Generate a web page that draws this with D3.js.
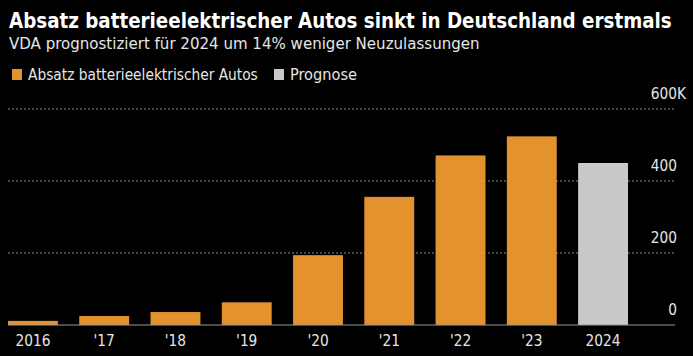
<!DOCTYPE html>
<html><head><meta charset="utf-8">
<script src="https://cdn.jsdelivr.net/npm/d3@7"></script>
<style>body{margin:0;background:#000;}svg{display:block;} text{font-family:'DejaVu Sans',sans-serif;font-stretch:condensed;}</style>
</head><body>
<svg id="c" width="693" height="356"></svg>
<script>
const categories = ["2016","'17","'18","'19","'20","'21","'22","'23","2024"];
const values = [11.4, 25, 36, 63, 194, 356, 471, 524, 450]; // thousands
const isForecast = [false,false,false,false,false,false,false,false,true];
const yTicks = [0, 200, 400, 600];
const title = "Absatz batterieelektrischer Autos sinkt in Deutschland erstmals";
const subtitle = "VDA prognostiziert für 2024 um 14% weniger Neuzulassungen";
const legendItems = ["Absatz batterieelektrischer Autos", "Prognose"];

const svg = d3.select("#c");
const W = 693, H = 356;
svg.append("rect").attr("width", W).attr("height", H).attr("fill", "#000");

const orange = "#e3922e", grey = "#c9c8ca", textCol = "#e6e6e6";

function fit(sel, target) {
  const w = sel.node().getComputedTextLength();
  const fs = parseFloat(sel.attr("font-size"));
  sel.attr("font-size", fs * target / w);
}

const t = svg.append("text").attr("x", 9).attr("y", 27.5).attr("fill", "#fff")
  .attr("font-weight", "bold").attr("font-size", 19).text(title);
fit(t, 663);
const st = svg.append("text").attr("x", 9).attr("y", 48.5).attr("fill", textCol)
  .attr("font-size", 15).text(subtitle);
fit(st, 471);

// legend
const lg = svg.append("g");
lg.append("rect").attr("x", 12).attr("y", 69).attr("width", 10).attr("height", 11).attr("fill", orange);
const l1 = lg.append("text").attr("x", 28).attr("y", 79.5).attr("fill", textCol)
  .attr("font-size", 15).text(legendItems[0]);
fit(l1, 230);
lg.append("rect").attr("x", 274).attr("y", 69).attr("width", 10).attr("height", 11).attr("fill", grey);
const l2 = lg.append("text").attr("x", 290).attr("y", 79.5).attr("fill", textCol)
  .attr("font-size", 15).text(legendItems[1]);
fit(l2, 67);

const x = d3.scaleBand().domain(categories).range([8, 628]).paddingInner(0.3).paddingOuter(0);
const y = d3.scaleLinear().domain([0, 600]).range([325, 109]);

// gridlines
svg.append("g").selectAll("line").data(yTicks.filter(d => d > 0)).join("line")
  .attr("x1", 8).attr("x2", 675).attr("y1", d => y(d)).attr("y2", d => y(d))
  .attr("stroke", "#8a8a8a").attr("stroke-width", 1).attr("stroke-dasharray", "2,2");

// bars
svg.append("g").selectAll("rect").data(categories).join("rect")
  .attr("x", d => x(d)).attr("width", x.bandwidth())
  .attr("y", (d, i) => y(values[i])).attr("height", (d, i) => y(0) - y(values[i]))
  .attr("fill", (d, i) => isForecast[i] ? grey : orange);

// baseline
svg.append("line").attr("x1", 8).attr("x2", 675).attr("y1", y(0)).attr("y2", y(0))
  .attr("stroke", "#9a9a9a").attr("stroke-width", 1.2);

// measure a digit label to size the axis text
const probe = svg.append("text").attr("font-size", 15).text("2016");
const axisFs = 15 * 35 / probe.node().getComputedTextLength();
probe.remove();

// y labels
svg.append("g").selectAll("text").data(yTicks).join("text")
  .attr("x", 677).attr("y", d => y(d) - 10).attr("text-anchor", "end")
  .attr("fill", textCol).attr("font-size", axisFs).text(d => d);
svg.append("text").attr("x", 677).attr("y", y(600) - 10).attr("fill", textCol)
  .attr("font-size", axisFs).text("K");

// x labels
svg.append("g").selectAll("text").data(categories).join("text")
  .attr("x", d => x(d) + x.bandwidth() / 2).attr("y", 345.5).attr("text-anchor", "middle")
  .attr("fill", textCol).attr("font-size", axisFs).text(d => d);
</script>
</body></html>
